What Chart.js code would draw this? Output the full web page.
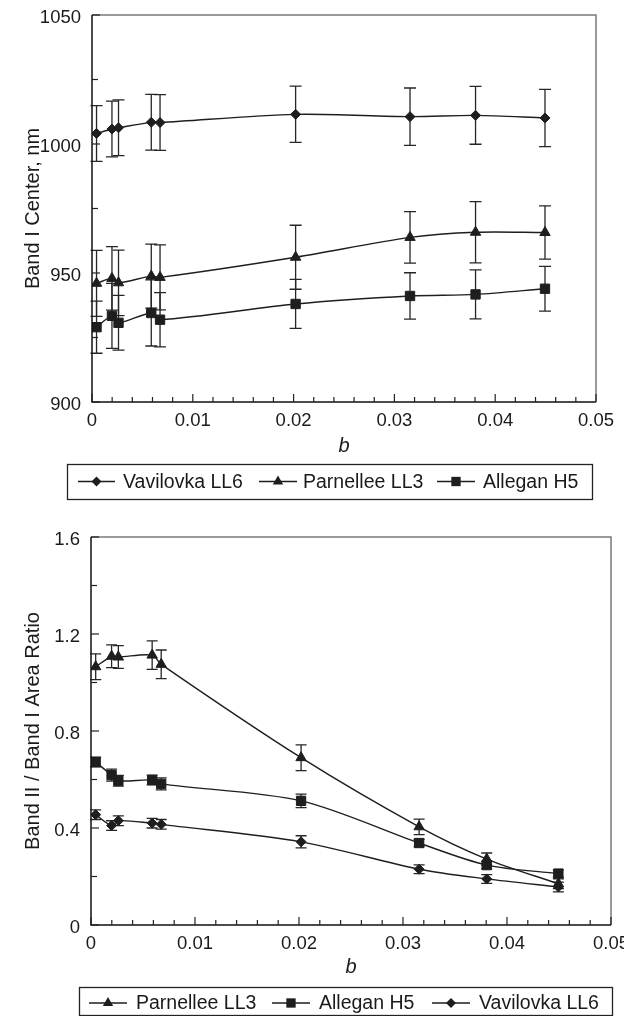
<!DOCTYPE html>
<html><head><meta charset="utf-8">
<script src="https://cdn.jsdelivr.net/npm/chart.js@4.4.1/dist/chart.umd.min.js"></script>
<style>
html,body{margin:0;padding:0;background:#fff;overflow:hidden;width:624px;height:1016px}
canvas{display:block;position:absolute;left:0}
#c1{top:0}
#c2{top:505px}
</style></head><body>
<canvas id="c1" width="624" height="505"></canvas>
<canvas id="c2" width="624" height="511"></canvas>
<script>
// ---------- data ----------
const bValues = [0.00045, 0.00198, 0.00263, 0.00588, 0.00675, 0.0202, 0.03155, 0.03805, 0.04494];
const xTicks = [0, 0.01, 0.02, 0.03, 0.04, 0.05];
const xTickLabels = ['0', '0.01', '0.02', '0.03', '0.04', '0.05'];

// Top chart: Band I center (nm)
const vavCenter    = [1004.1, 1005.8, 1006.3, 1008.4, 1008.3, 1011.5, 1010.6, 1011.1, 1010.1];
const vavCenterErr = [10.8, 10.8, 10.8, 10.8, 10.8, 10.9, 11.1, 11.2, 11.1];
const parCenter    = [946.0, 947.9, 946.2, 948.8, 948.3, 956.1, 963.8, 965.8, 965.7];
const parCenterErr = [12.8, 12.3, 12.7, 12.4, 12.6, 12.4, 10.0, 11.9, 10.3];
const allCenter    = [929.0, 933.4, 930.7, 934.5, 931.9, 938.0, 941.1, 941.7, 943.9];
const allCenterErr = [10.1, 12.6, 10.6, 12.8, 10.5, 9.5, 9.0, 9.5, 8.7];
const yTopTicks = [900, 950, 1000, 1050];
const yTopTickLabels = ['900', '950', '1000', '1050'];

// Bottom chart: Band II / Band I area ratio
const parRatio    = [1.065, 1.108, 1.105, 1.113, 1.075, 0.690, 0.405, 0.272, 0.170];
const parRatioErr = [0.053, 0.047, 0.047, 0.059, 0.059, 0.053, 0.032, 0.025, 0.020];
const allRatio    = [0.672, 0.618, 0.595, 0.598, 0.582, 0.512, 0.338, 0.247, 0.212];
const allRatioErr = [0.020, 0.025, 0.022, 0.020, 0.025, 0.028, 0.015, 0.015, 0.015];
const vavRatio    = [0.455, 0.410, 0.430, 0.420, 0.415, 0.343, 0.230, 0.190, 0.157];
const vavRatioErr = [0.020, 0.020, 0.020, 0.020, 0.020, 0.025, 0.018, 0.018, 0.020];
const yBotTicks = [0, 0.4, 0.8, 1.2, 1.6];
const yBotTickLabels = ['0', '0.4', '0.8', '1.2', '1.6'];

const nameVav = 'Vavilovka LL6', namePar = 'Parnellee LL3', nameAll = 'Allegan H5';

// ---------- styling ----------
const FONT = "'Liberation Sans', Arial, Helvetica, sans-serif";
const INK = '#1e1e1e';

function pts(vals){ return vals.map((v,i)=>({x:bValues[i], y:v})); }

function makeDataset(label, vals, errs, style, r){
  return {
    label, data: pts(vals), errors: errs,
    borderColor: INK, backgroundColor: INK, borderWidth: 1.4,
    pointStyle: style, pointRadius: r, pointHoverRadius: r,
    pointBorderColor: INK, pointBackgroundColor: INK, pointBorderWidth: 1,
    tension: 0.3, fill: false, markerR: r
  };
}

function drawMarker(ctx, style, x, y, r){
  ctx.beginPath();
  if (style === 'rectRot'){
    ctx.moveTo(x - r, y); ctx.lineTo(x, y - r); ctx.lineTo(x + r, y); ctx.lineTo(x, y + r);
  } else if (style === 'triangle'){
    const a = 2*Math.PI/3;
    ctx.moveTo(x, y - r);
    ctx.lineTo(x + Math.sin(a)*r, y - Math.cos(a)*r);
    ctx.lineTo(x + Math.sin(2*a)*r, y - Math.cos(2*a)*r);
  } else {
    const s = Math.SQRT1_2 * r;
    ctx.rect(x - s, y - s, 2*s, 2*s);
  }
  ctx.closePath();
  ctx.fill();
}

function decorPlugin(o){
  return {
    id: 'decor',
    beforeDatasetsDraw(chart){
      const {ctx, scales:{x, y}} = chart;
      ctx.save();
      ctx.strokeStyle = '#262626'; ctx.lineWidth = 1.3;
      chart.data.datasets.forEach(ds=>{
        ds.data.forEach((p,i)=>{
          const e = ds.errors[i];
          const px = x.getPixelForValue(p.x);
          const y1 = y.getPixelForValue(p.y + e), y2 = y.getPixelForValue(p.y - e);
          ctx.beginPath();
          ctx.moveTo(px, y1); ctx.lineTo(px, y2);
          ctx.moveTo(px - o.cap, y1); ctx.lineTo(px + o.cap, y1);
          ctx.moveTo(px - o.cap, y2); ctx.lineTo(px + o.cap, y2);
          ctx.stroke();
        });
      });
      ctx.restore();
    },
    afterDraw(chart){
      const {ctx, chartArea:a, scales:{x, y}} = chart;
      ctx.save();
      // frame
      ctx.lineWidth = 1.5;
      ctx.strokeStyle = '#7a7a7a';
      ctx.beginPath(); ctx.moveTo(a.left, a.top); ctx.lineTo(a.right, a.top); ctx.lineTo(a.right, a.bottom); ctx.stroke();
      ctx.strokeStyle = '#111';
      ctx.beginPath(); ctx.moveTo(a.left, a.top); ctx.lineTo(a.left, a.bottom); ctx.lineTo(a.right, a.bottom); ctx.stroke();
      // inward ticks
      ctx.lineWidth = 1.2; ctx.strokeStyle = '#222';
      const nX = Math.round((x.max - x.min)/o.xMinor);
      for (let i=0;i<=nX;i++){
        const v = x.min + i*o.xMinor;
        const major = i % o.xEvery === 0;
        const px = x.getPixelForValue(v);
        ctx.beginPath(); ctx.moveTo(px, a.bottom); ctx.lineTo(px, a.bottom - (major?8:5)); ctx.stroke();
      }
      const nY = Math.round((y.max - y.min)/o.yMinor);
      for (let i=0;i<=nY;i++){
        const v = y.min + i*o.yMinor;
        const major = i % o.yEvery === 0;
        const py = y.getPixelForValue(v);
        ctx.beginPath(); ctx.moveTo(a.left, py); ctx.lineTo(a.left + (major?8:6), py); ctx.stroke();
      }
      // legend box
      const L = o.legend;
      ctx.lineWidth = 1.3; ctx.strokeStyle = '#222';
      ctx.strokeRect(L.x + 0.5, L.y + 0.5, L.w, L.h);
      ctx.font = '19.5px ' + FONT;
      ctx.textBaseline = 'middle'; ctx.textAlign = 'left';
      L.items.forEach(it=>{
        const ds = chart.data.datasets[it.ds];
        ctx.strokeStyle = INK; ctx.lineWidth = 1.4; ctx.fillStyle = INK;
        ctx.beginPath(); ctx.moveTo(it.l0, L.ty); ctx.lineTo(it.l1, L.ty); ctx.stroke();
        drawMarker(ctx, ds.pointStyle, (it.l0 + it.l1)/2, L.ty, ds.markerR);
        ctx.fillStyle = '#1a1a1a';
        ctx.fillText(ds.label, it.tx, L.ty + 1);
      });
      ctx.restore();
    }
  };
}

function makeOptions(o){
  return {
    responsive: false, animation: false, devicePixelRatio: 1,
    layout: { padding: o.pad },
    plugins: { legend: {display:false}, tooltip: {enabled:false} },
    events: [],
    scales: {
      x: {
        type: 'linear', min: 0, max: 0.05,
        grid: { display: false, drawTicks: false },
        border: { display: false },
        afterBuildTicks: s => { s.ticks = xTicks.map(v=>({value:v})); },
        ticks: {
          color: '#1a1a1a', padding: 8, maxRotation: 0, autoSkip: false,
          font: { family: FONT, size: 18.5 },
          callback: (v, i) => xTickLabels[i]
        },
        title: { display: true, text: 'b', color: '#1a1a1a',
                 font: { family: FONT, size: 20, style: 'italic' }, padding: { top: 0, bottom: o.xTitlePad } },
        afterFit: s => { s.height = 60; s.paddingLeft = 0; s.paddingRight = 0; }
      },
      y: {
        type: 'linear', min: o.yMin, max: o.yMax,
        grid: { display: false, drawTicks: false },
        border: { display: false },
        afterBuildTicks: s => { s.ticks = o.yTicks.map(v=>({value:v})); },
        ticks: {
          color: '#1a1a1a', padding: 11, labelOffset: 3, autoSkip: false,
          font: { family: FONT, size: 18.5 },
          callback: (v, i) => o.yLabels[i]
        },
        title: { display: true, text: o.yTitle, color: '#1a1a1a',
                 font: { family: FONT, size: 20 }, padding: { top: 21, bottom: 0 } },
        afterFit: s => { s.width = o.yWidth; s.paddingTop = 0; s.paddingBottom = 0; }
      }
    }
  };
}

// ---------- top chart ----------
new Chart(document.getElementById('c1'), {
  type: 'line',
  data: { datasets: [
    makeDataset(nameVav, vavCenter, vavCenterErr, 'rectRot', 5),
    makeDataset(namePar, parCenter, parCenterErr, 'triangle', 6),
    makeDataset(nameAll, allCenter, allCenterErr, 'rect', 6.6)
  ]},
  options: makeOptions({
    pad: { top: 15, right: 28, bottom: 43, left: 0 },
    yMin: 900, yMax: 1050, yTicks: yTopTicks, yLabels: yTopTickLabels,
    yTitle: 'Band I Center, nm', yWidth: 92, xTitlePad: 4
  }),
  plugins: [decorPlugin({
    cap: 6, xMinor: 0.002, xEvery: 5, yMinor: 25, yEvery: 2,
    legend: { x: 67, y: 464, w: 525, h: 35, ty: 481.5, items: [
      { ds: 0, l0: 78, l1: 115, tx: 123 },
      { ds: 1, l0: 259, l1: 297, tx: 303 },
      { ds: 2, l0: 437, l1: 475, tx: 483 }
    ]}
  })]
});

// ---------- bottom chart ----------
new Chart(document.getElementById('c2'), {
  type: 'line',
  data: { datasets: [
    makeDataset(namePar, parRatio, parRatioErr, 'triangle', 6),
    makeDataset(nameAll, allRatio, allRatioErr, 'rect', 6.6),
    makeDataset(nameVav, vavRatio, vavRatioErr, 'rectRot', 5)
  ]},
  options: makeOptions({
    pad: { top: 32, right: 13, bottom: 31, left: 0 },
    yMin: 0, yMax: 1.6, yTicks: yBotTicks, yLabels: yBotTickLabels,
    yTitle: 'Band II / Band I Area Ratio', yWidth: 91, xTitlePad: 6
  }),
  plugins: [decorPlugin({
    cap: 5.5, xMinor: 0.002, xEvery: 5, yMinor: 0.2, yEvery: 2,
    legend: { x: 79, y: 482, w: 533, h: 28, ty: 498, items: [
      { ds: 0, l0: 89, l1: 127, tx: 136 },
      { ds: 1, l0: 272, l1: 310, tx: 319 },
      { ds: 2, l0: 432, l1: 470, tx: 479 }
    ]}
  })]
});
</script>
</body></html>
